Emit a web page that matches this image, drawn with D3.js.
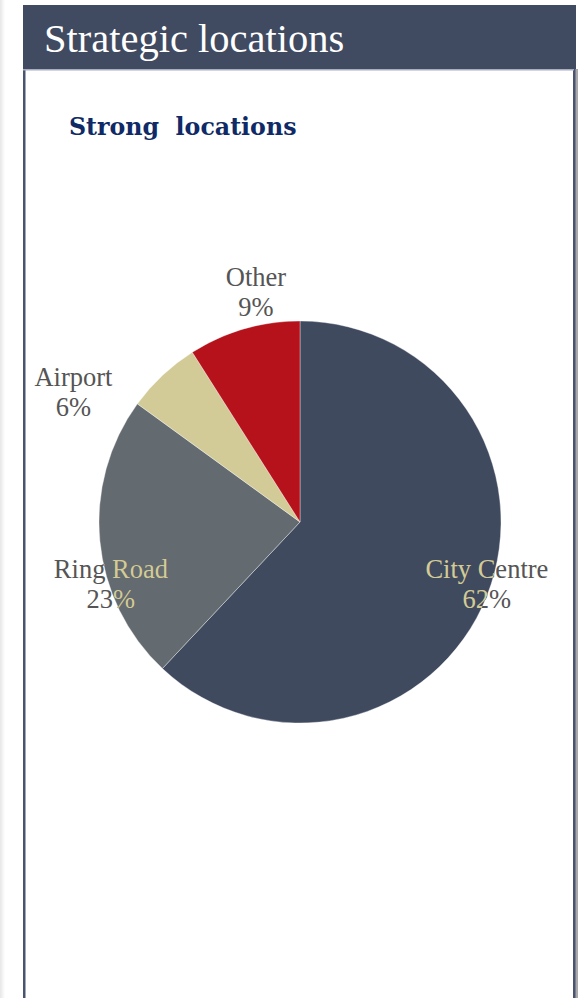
<!DOCTYPE html>
<html>
<head>
<meta charset="utf-8">
<script src="https://cdn.jsdelivr.net/npm/d3@7"></script>
<style>
  html, body { margin: 0; padding: 0; background: #fff; }
  svg { display: block; }
</style>
</head>
<body>
<svg id="chart" width="579" height="998"></svg>
<script>
// Share of portfolio by location type
const categories = ["City Centre", "Ring Road", "Airport", "Other"];
const shares = [62, 23, 6, 9];

const sliceColors = ["#3f4a5f", "#636a70", "#d2cb98", "#b5121b"];
// label offsets from the rim point at each slice's mid angle
const labelNudge = [[0, -3], [11, 52], [-89, 26], [12, -28]];

const W = 579, H = 998;
const svg = d3.select("#chart");

// soft page shadow on the far left
const defs = svg.append("defs");
const sh = defs.append("linearGradient").attr("id", "lshadow").attr("x1", 0).attr("x2", 1);
sh.append("stop").attr("offset", 0).attr("stop-color", "#e6e6e6");
sh.append("stop").attr("offset", 1).attr("stop-color", "#ffffff");
svg.append("rect").attr("x", 0).attr("y", 0).attr("width", 5).attr("height", H).attr("fill", "url(#lshadow)");

// panel
const px = 23, pw = 553, py = 5, headerH = 64;
svg.append("rect").attr("x", px).attr("y", py).attr("width", pw).attr("height", H)
  .attr("fill", "#fff");
// right side shadow
svg.append("rect").attr("x", px + pw - 1).attr("y", py + headerH).attr("width", 3).attr("height", H)
  .attr("fill", "#a9a9ab");
// side borders
svg.append("rect").attr("x", px).attr("y", py).attr("width", 2.5).attr("height", H).attr("fill", "#4a5471");
svg.append("rect").attr("x", px + pw - 3).attr("y", py).attr("width", 2.5).attr("height", H).attr("fill", "#4a5471");
// header bar
svg.append("rect").attr("x", px).attr("y", py).attr("width", pw).attr("height", headerH)
  .attr("fill", "#404a61");
svg.append("rect").attr("x", px).attr("y", py + headerH).attr("width", pw - 2).attr("height", 1.5)
  .attr("fill", "#a8aec0");

svg.append("text")
  .attr("x", 44).attr("y", 52)
  .attr("font-family", "'Liberation Serif', 'Times New Roman', serif")
  .attr("font-size", 40.5)
  .attr("fill", "#ffffff")
  .text("Strategic locations");

svg.append("text")
  .attr("x", 69).attr("y", 135)
  .attr("font-family", "'DejaVu Serif', serif")
  .attr("font-weight", "bold")
  .attr("font-size", 23.7)
  .attr("fill", "#0f2a66")
  .attr("xml:space", "preserve")
  .style("white-space", "pre")
  .text("Strong  locations");

// pie
const cx = 300, cy = 522, r = 201;
const pie = d3.pie().sort(null).value(d => d);
const arcs = pie(shares);
const arc = d3.arc().innerRadius(0).outerRadius(r);
const rim = d3.arc().innerRadius(r).outerRadius(r);

const g = svg.append("g").attr("transform", `translate(${cx},${cy})`);
g.selectAll("path.slice")
  .data(arcs)
  .join("path")
  .attr("class", "slice")
  .attr("d", arc)
  .attr("fill", (d, i) => sliceColors[i])
  .attr("stroke", "#ffffff")
  .attr("stroke-width", 0.6)
  .attr("stroke-opacity", 0.6);

defs.append("clipPath").attr("id", "pieClip")
  .append("circle").attr("cx", 0).attr("cy", 0).attr("r", r);

function drawLabels(layer, color) {
  layer.selectAll("text")
    .data(arcs)
    .join("text")
    .attr("font-family", "'Liberation Serif', 'Times New Roman', serif")
    .attr("font-size", 26.5)
    .attr("text-anchor", "middle")
    .attr("fill", color)
    .each(function (d, i) {
      const [x, y] = rim.centroid(d);
      const lx = x + labelNudge[i][0], ly = y + labelNudge[i][1];
      const s = d3.select(this);
      s.append("tspan").attr("x", lx).attr("y", ly - 15).text(categories[i]);
      s.append("tspan").attr("x", lx).attr("y", ly + 15).text(shares[i] + "%");
    });
}
// grey labels, then a light copy clipped to the pie disc
drawLabels(g.append("g"), "#555555");
drawLabels(g.append("g").attr("clip-path", "url(#pieClip)"), "#d3cb97");
</script>
</body>
</html>
